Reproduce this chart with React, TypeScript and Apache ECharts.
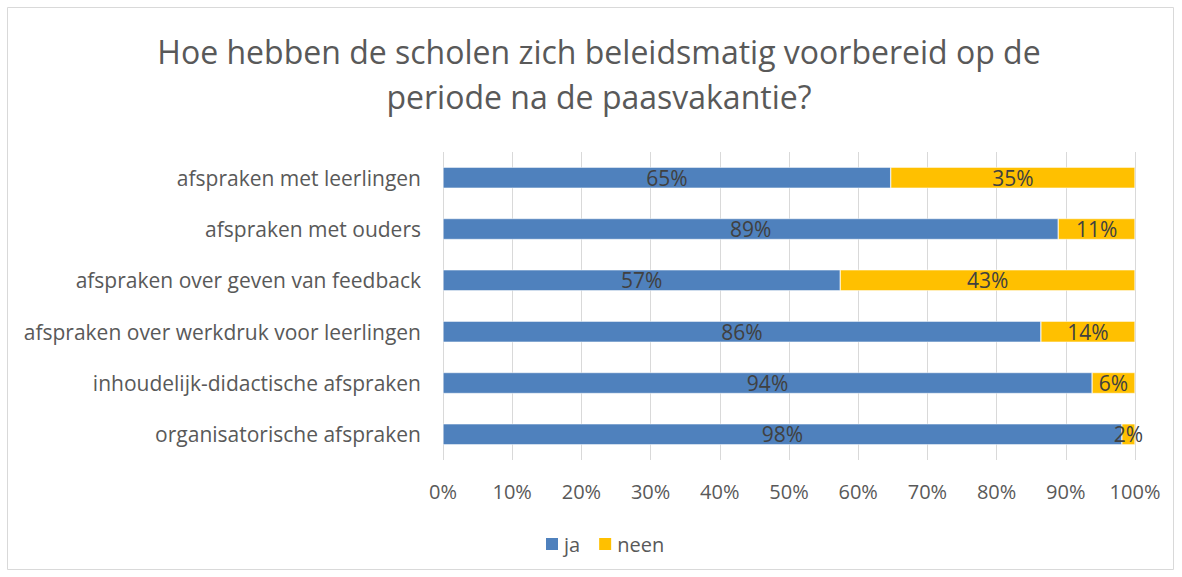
import React, { useEffect, useRef } from "react";
import * as echarts from "echarts";

const categories = [
  "afspraken met leerlingen",
  "afspraken met ouders",
  "afspraken over geven van feedback",
  "afspraken over werkdruk voor leerlingen",
  "inhoudelijk-didactische afspraken",
  "organisatorische afspraken",
];
const jaValues = [64.7, 88.9, 57.4, 86.4, 93.8, 98.1];
const neenValues = [35.3, 11.1, 42.6, 13.6, 6.2, 1.9];
const seriesNames = ["ja", "neen"];
const titleText = "Hoe hebben de scholen zich beleidsmatig voorbereid op de\nperiode na de paasvakantie?";

const FONT = "Open Sans";

export default function App() {
  const ref = useRef<HTMLDivElement>(null);
  useEffect(() => {
    if (!ref.current) return;
    const chart = echarts.init(ref.current, null, { renderer: "svg" });
    const label = {
      show: true,
      position: "inside",
      color: "#404040",
      fontSize: 21,
      fontFamily: FONT,
      formatter: (p: any) => Math.round(p.value) + "%",
    };
    chart.setOption({
      animation: false,
      backgroundColor: "#ffffff",
      textStyle: { fontFamily: FONT },
      title: {
        text: titleText,
        left: 599,
        top: 29,
        textAlign: "center",
        padding: 0,
        textStyle: {
          fontFamily: FONT,
          fontSize: 32,
          fontWeight: "normal",
          color: "#595959",
          lineHeight: 45,
        },
      },
      graphic: [
        {
          type: "rect",
          shape: { x: 7.5, y: 7.5, width: 1166, height: 562 },
          style: { fill: "none", stroke: "#d9d9d9", lineWidth: 1 },
          silent: true,
        },
      ],
      legend: {
        data: seriesNames,
        left: 544,
        top: 534,
        padding: 0,
        itemWidth: 14,
        itemHeight: 14,
        itemGap: 17,
        icon: "rect",
        textStyle: { fontFamily: FONT, fontSize: 20, color: "#595959", padding: [0, 0, 0, 0] },
      },
      grid: { left: 443, right: 47, top: 152, bottom: 117, containLabel: false },
      xAxis: {
        type: "value",
        min: 0,
        max: 100,
        interval: 10,
        axisLine: { show: false },
        axisTick: { show: false },
        splitLine: { show: true, lineStyle: { color: "#d9d9d9", width: 1 } },
        axisLabel: {
          formatter: "{value}%",
          color: "#595959",
          fontSize: 20,
          fontFamily: FONT,
          margin: 21,
        },
      },
      yAxis: {
        type: "category",
        data: categories,
        inverse: true,
        axisLine: { show: false },
        axisTick: { show: false },
        axisLabel: {
          color: "#595959",
          fontSize: 21,
          fontFamily: FONT,
          margin: 22,
        },
      },
      series: [
        {
          name: seriesNames[0],
          type: "bar",
          stack: "total",
          data: jaValues,
          barWidth: 21,
          itemStyle: { color: "#4f81bd", borderColor: "#ffffff", borderWidth: 0.5 },
          label,
        },
        {
          name: seriesNames[1],
          type: "bar",
          stack: "total",
          data: neenValues,
          barWidth: 21,
          itemStyle: { color: "#ffc000", borderColor: "#ffffff", borderWidth: 0.5 },
          label,
        },
      ],
    });
    return () => chart.dispose();
  }, []);
  return (
    <div
      ref={ref}
      style={{ position: "absolute", left: 0, top: 0, width: 1182, height: 577 }}
    />
  );
}
